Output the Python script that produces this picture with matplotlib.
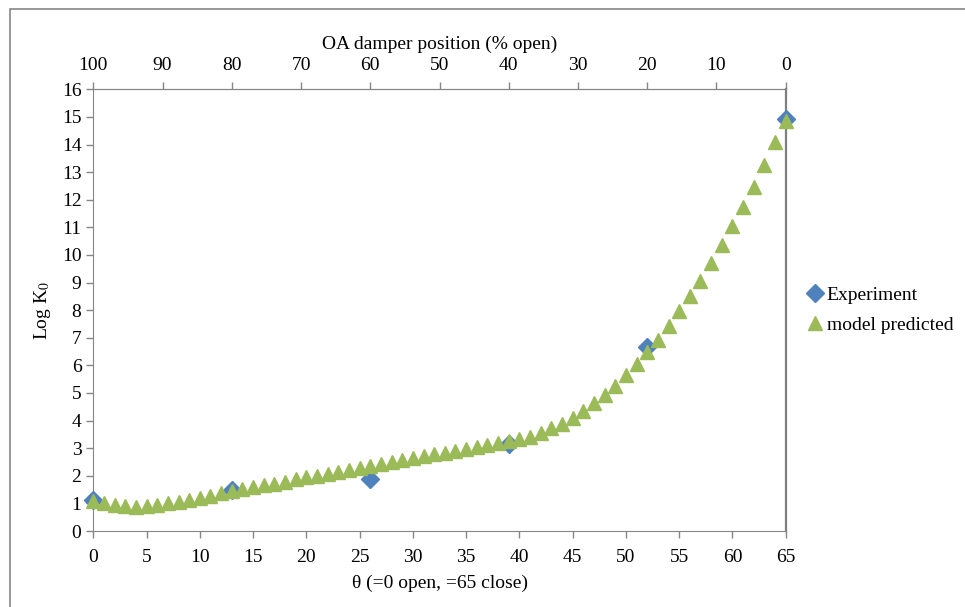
import numpy as np
import matplotlib.pyplot as plt
from matplotlib.patches import Rectangle

plt.rcParams['font.family'] = ['Liberation Serif', 'DejaVu Serif']
plt.rcParams['mathtext.fontset'] = 'stix'

# damper angle, 0 = fully open, 65 = closed
theta_model = list(range(66))
logk_model = [1.10, 1.00, 0.94, 0.91, 0.88, 0.90, 0.94, 1.00, 1.06, 1.14,
              1.21, 1.28, 1.36, 1.44, 1.51, 1.58, 1.65, 1.71, 1.79, 1.87,
              1.94, 2.01, 2.08, 2.15, 2.21, 2.28, 2.36, 2.43, 2.50, 2.57,
              2.64, 2.71, 2.78, 2.84, 2.91, 2.98, 3.05, 3.12, 3.18, 3.25,
              3.33, 3.42, 3.56, 3.72, 3.88, 4.09, 4.33, 4.63, 4.93, 5.27,
              5.64, 6.05, 6.47, 6.93, 7.41, 7.96, 8.52, 9.05, 9.71, 10.35,
              11.04, 11.73, 12.47, 13.24, 14.08, 14.85]

theta_exp = [0, 13, 26, 39, 52, 65]
logk_exp = [1.14, 1.48, 1.90, 3.14, 6.65, 14.91]

bottom_ticks = list(range(0, 66, 5))
top_ticks = list(range(0, 101, 10))
y_ticks = list(range(0, 17))

blue = '#4F81BD'
green = '#9BBB59'
grey = '#868686'


def to_open(t):
    return 100 - np.asarray(t) * 100.0 / 65


def from_open(p):
    return (100 - np.asarray(p)) * 65 / 100.0


fig = plt.figure(figsize=(9.65, 6.07), dpi=100)
fig.patches.append(Rectangle((10 / 965, -0.1), 1.2, 1 - 9 / 607 + 0.1,
                             transform=fig.transFigure, fill=False,
                             edgecolor=grey, linewidth=1.2))

ax = fig.add_axes([93.3 / 965, 1 - 531 / 607, (785.7 - 93.3) / 965, (531 - 89.3) / 607])

ax.plot(theta_exp, logk_exp, linestyle='none', marker='D', markersize=9.5,
        color=blue, label='Experiment', clip_on=False, zorder=3)
ax.plot(theta_model, logk_model, linestyle='none', marker='^', markersize=10,
        color=green, label='model predicted', clip_on=False, zorder=4)

ax.set_xlim(0, 65)
ax.set_ylim(0, 16)
ax.set_xticks(bottom_ticks)
ax.set_yticks(y_ticks)
ax.tick_params(labelsize=14, direction='out', length=5, color=grey, width=1)
ax.tick_params(axis='x', pad=8)
for side in ['left', 'bottom', 'top']:
    ax.spines[side].set_color(grey)
ax.spines['right'].set_color('#7f7f7f')
ax.spines['right'].set_linewidth(1.6)

ax.set_xlabel('θ (=0 open, =65 close)', fontsize=14, labelpad=6)
ax.set_ylabel('Log K$_0$', fontsize=14, labelpad=6)

top = ax.secondary_xaxis('top', functions=(to_open, from_open))
top.set_xticks(top_ticks)
top.tick_params(labelsize=14, direction='out', length=5, color=grey, width=1, pad=6)
top.spines['top'].set_color(grey)
top.set_xlabel('OA damper position (% open)', fontsize=14, labelpad=6)

ax.legend(loc='center left', bbox_to_anchor=(1.0, 0.5), frameon=False,
          fontsize=14, handletextpad=0.0, handlelength=1.2,
          labelspacing=0.65, borderaxespad=0.5)

fig.savefig('out.png', dpi=100)
